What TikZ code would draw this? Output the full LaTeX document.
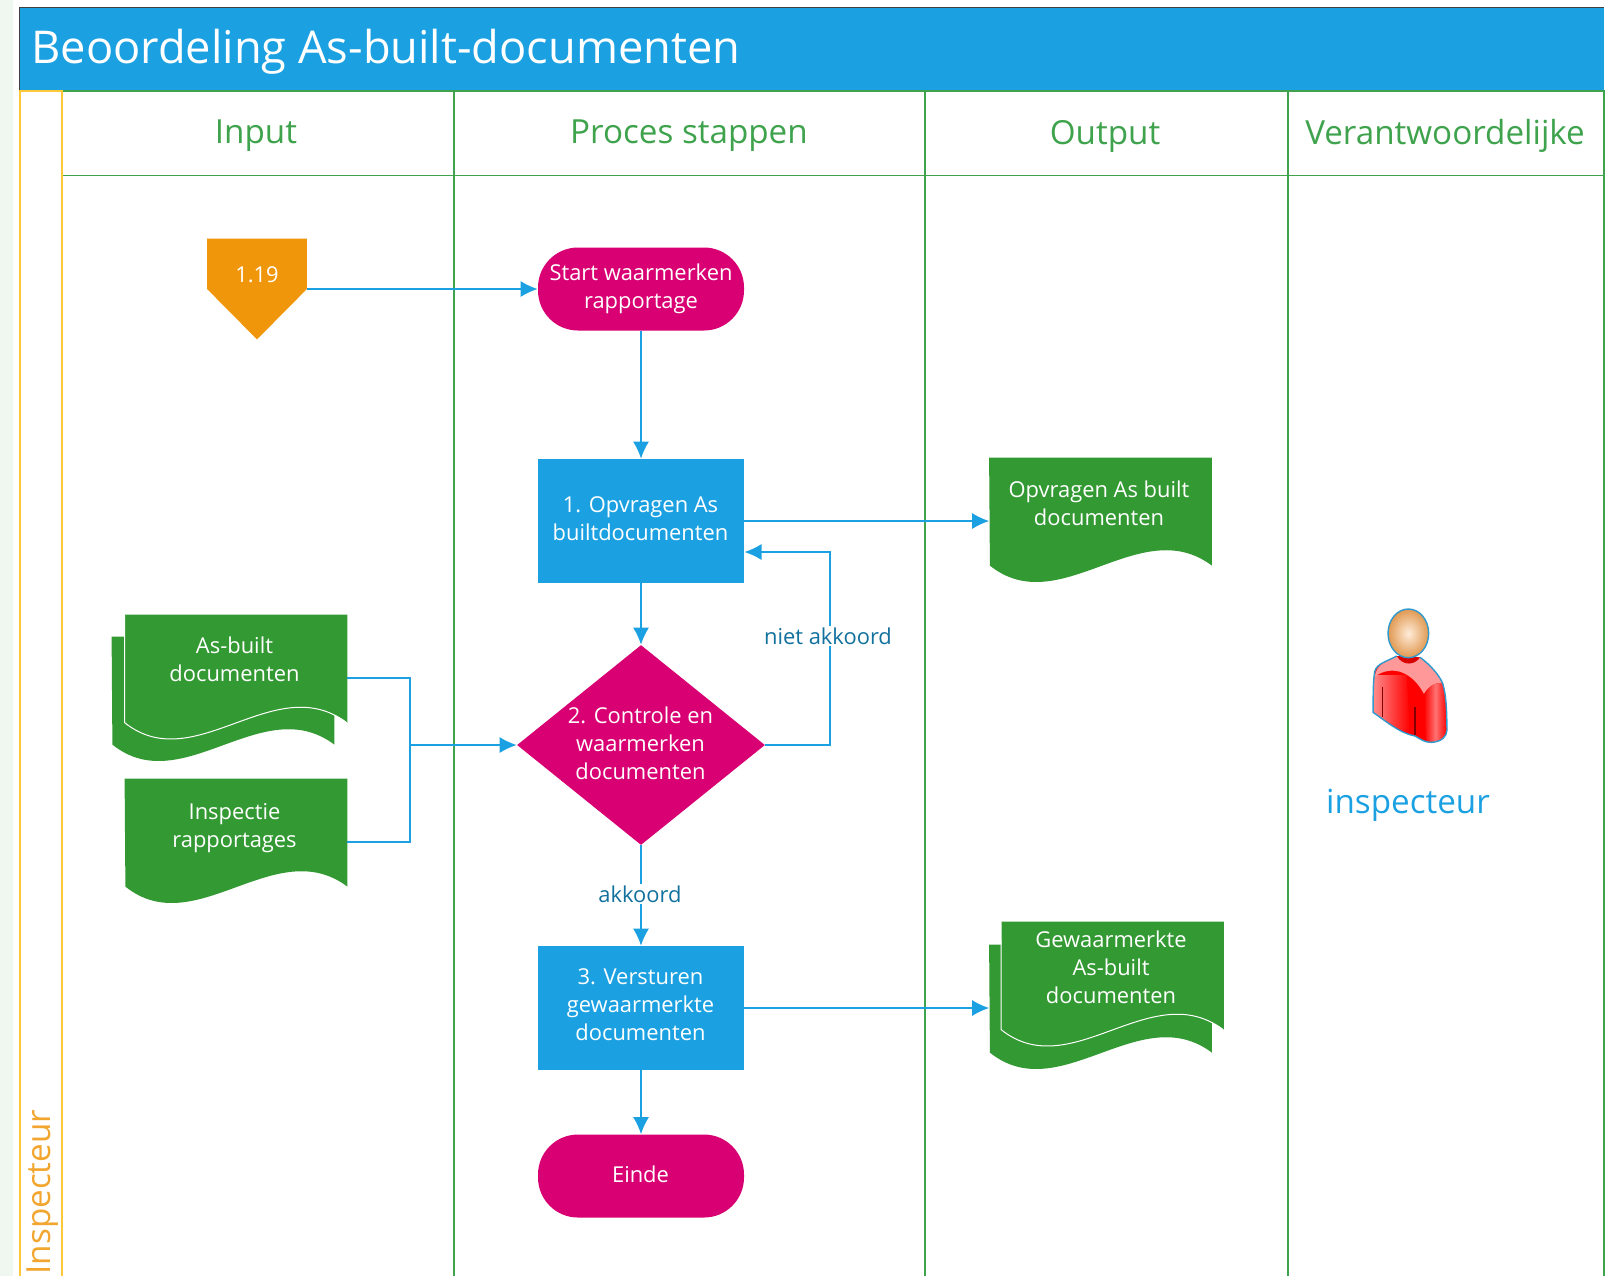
\documentclass[tikz,border=0pt]{standalone}
\usepackage{fontspec}
\setmainfont{Open Sans}
\usetikzlibrary{arrows.meta,shapes.geometric}
\definecolor{laneblue}{HTML}{1BA1E2}
\definecolor{lanegreen}{HTML}{3FA34D}
\definecolor{docgreen}{HTML}{339933}
\definecolor{startpink}{HTML}{D80073}
\definecolor{refer}{HTML}{F0960A}
\definecolor{laneyellow}{HTML}{FFC838}
\definecolor{pagebg}{HTML}{F0F7F1}
\tikzset{
  boxtext/.style={font=\fontsize{10.95}{14}\selectfont,text=white,align=center,inner sep=0pt},
  stepbox/.style={boxtext,fill=laneblue,minimum width=103pt,minimum height=62pt},
  startbox/.style={boxtext,fill=startpink,rounded corners=20pt,minimum width=103pt,minimum height=41.5pt},
  choice/.style={shape=diamond,fill=startpink,inner sep=0pt,minimum width=124pt,minimum height=100pt},
  docbox/.style={inner sep=0pt,minimum width=111pt,minimum height=63pt},
  head/.style={font=\fontsize{16.6}{20}\selectfont,text=lanegreen,inner sep=0pt},
  flow/.style={laneblue,line width=0.65pt,-{Latex[length=8.5pt,width=8pt]}},
  flowline/.style={laneblue,line width=0.65pt},
  edgetext/.style={font=\fontsize{10.95}{14}\selectfont,text=laneblue!70!black,fill=white,inner sep=1pt}
}
% document outline of a box node, with its wavy foot
\newcommand{\docwave}[1]{(#1.north west) -- (#1.north east) -- ++(0,108) .. controls +(-72,-54) and +(70,56) .. ++(-222,0) -- cycle}
\newcommand{\docedge}[1]{(#1.north west) -- ++(0,108) .. controls +(70,56) and +(-72,-54) .. ++(222,0)}
\begin{document}
\begin{tikzpicture}[x=0.5pt,y=-0.5pt]
    \useasboundingbox (0,0) rectangle (1610,1276);
    \fill[white] (0,0) rectangle (1610,1276);
    \fill[pagebg] (0,0) rectangle (13,1276);
    % title band
    \fill[laneblue] (19,7) rectangle (1604,91);
    \draw[black!75,line width=0.5pt] (19,91) -- (19,7) -- (1604,7);
    \node[font=\fontsize{22.6}{28}\selectfont,text=white,anchor=west,inner sep=0pt] (title) at (31,52) {Beoordeling As-built-documenten};
    % lanes
    \draw[lanegreen,line width=0.6pt] (62,91) -- (1604,91) -- (1604,1276);
    \draw[lanegreen,line width=0.6pt] (62,175.5) -- (1604,175.5);
    \draw[lanegreen,line width=0.6pt] (454,91) -- (454,1276);
    \draw[lanegreen,line width=0.6pt] (925,91) -- (925,1276);
    \draw[lanegreen,line width=0.6pt] (1288,91) -- (1288,1276);
    \draw[laneyellow,line width=1pt] (19.5,1276) -- (19.5,91) -- (62,91) -- (62,1276);
    \node[head] (input) at (256,136) {Input};
    \node[head] (proces) at (689,136) {Proces stappen};
    \node[head] (output) at (1105,136) {Output};
    \node[head] (verantw) at (1445,136) {Verantwoordelijke};
    \node[font=\fontsize{16.6}{20}\selectfont,text=refer!85,rotate=90,inner sep=0pt] (inspecteur) at (43,1192) {Inspecteur};
    % flow nodes
    \node[inner sep=0pt,minimum width=49.5pt,minimum height=50pt] (link) at (257,289) {};
    \fill[refer] (link.north west) -- (link.north east) -- (link.east) -- (link.south) -- (link.west) -- cycle;
    \node[boxtext] (linktext) at (257,275) {1.19};
    \node[startbox] (start) at (641,289) {Start waarmerken\\rapportage};
    \node[stepbox] (opvragen) at (641,521) {};
    \node[boxtext] (opvragentext) at (640.5,518.5) {1. Opvragen As\\builtdocumenten};
    \node[choice] (controle) at (641,745) {};
    \node[boxtext] (controletext) at (640.5,743) {2. Controle en\\waarmerken\\documenten};
    \node[stepbox] (versturen) at (641,1008) {};
    \node[boxtext] (versturentext) at (640.5,1005) {3. Versturen\\gewaarmerkte\\documenten};
    \node[startbox] (einde) at (641,1176) {};
    \node[boxtext] (eindetext) at (640.5,1174) {Einde};
    % documents
    \node[docbox] (opvrdoc) at (1100.5,521) {};
    \fill[docgreen] \docwave{opvrdoc};
    \node[boxtext] (opvrtext) at (1099,503.5) {Opvragen As built\\documenten};
    \node[docbox] (asbuiltback) at (223,700) {};
    \fill[docgreen] \docwave{asbuiltback};
    \node[docbox] (asbuilt) at (236,678) {};
    \fill[docgreen] \docwave{asbuilt};
    \draw[white,line width=0.5pt] \docedge{asbuilt};
    \node[boxtext] (asbuilttext) at (234.5,659) {As-built\\documenten};
    \node[docbox] (inspdoc) at (236,842) {};
    \fill[docgreen] \docwave{inspdoc};
    \node[boxtext] (insptext) at (234.5,828) {Inspectie\\rapportages};
    \node[docbox] (gewaarback) at (1100.5,1008) {};
    \fill[docgreen] \docwave{gewaarback};
    \node[docbox] (gewaar) at (1112.5,985) {};
    \fill[docgreen] \docwave{gewaar};
    \draw[white,line width=0.5pt] \docedge{gewaar};
    \node[boxtext] (gewaartext) at (1111,967) {Gewaarmerkte\\As-built\\documenten};
    % connectors
    \coordinate (samen) at (410,745);
    \coordinate (terug) at (744.5,552);
    \draw[flow] (link.east) -- (start.west);
    \draw[flow] (start.south) -- (opvragen.north);
    \draw[flow] (opvragen.south) -- (controle.north);
    \draw[flow] (opvragen.east) -- (opvrdoc.west);
    \draw[flow] (controle.east) -- (830,745) |- (terug);
    \draw[flowline] (asbuilt.east) -| (samen);
    \draw[flowline] (inspdoc.east) -| (samen);
    \draw[flow] (samen) -- (controle.west);
    \draw[flow] (controle.south) -- (versturen.north);
    \draw[flow] (versturen.east) -- (gewaarback.west);
    \draw[flow] (versturen.south) -- (einde.north);
    \node[edgetext] (nietakk) at (828,636) {niet akkoord};
    \node[edgetext] (akkoord) at (640,894) {akkoord};
    % person
    \begin{scope}[shift={(1300,580)},xscale=1/3,yscale=1/3]
        \fill[red] (290,228) .. controls (260,245) and (230,250) .. (224,275) .. controls (218,310) and (220,370) .. (219,397) .. controls (260,425) and (300,460) .. (345,468) .. controls (365,480) and (375,487) .. (395,487) .. controls (425,485) and (440,470) .. (441,450) .. controls (440,400) and (440,350) .. (428,310) .. controls (415,280) and (385,250) .. (360,232) -- cycle;
        \shade[left color=red!45!white,right color=red] (224,285) .. controls (218,320) and (220,370) .. (219,397) .. controls (260,425) and (290,445) .. (330,462) -- (320,285) -- cycle;
        \fill[red!40!white] (290,228) .. controls (260,245) and (230,250) .. (224,290) .. controls (280,250) and (340,280) .. (372,342) .. controls (385,320) and (405,305) .. (428,310) .. controls (415,280) and (385,250) .. (360,232) -- cycle;
        \fill[red!85!black] (290,228) -- (360,232) .. controls (345,255) and (310,260) .. (290,228) -- cycle;
        \shade[left color=red,right color=red,middle color=red!55!white] (372,342) .. controls (385,320) and (405,305) .. (428,310) .. controls (440,350) and (440,400) .. (441,450) .. controls (440,470) and (425,485) .. (395,487) .. controls (385,487) and (380,485) .. (378,480) -- cycle;
        \draw[red!50!black,line width=0.6pt] (248,320) -- (248,410);
        \draw[red!50!black,line width=0.6pt] (345,380) -- (345,465);
        \draw[laneblue!80!gray,line width=0.7pt] (290,228) .. controls (260,245) and (230,250) .. (224,275) .. controls (218,310) and (220,370) .. (219,397) .. controls (260,425) and (300,460) .. (345,468) .. controls (365,480) and (375,487) .. (395,487) .. controls (425,485) and (440,470) .. (441,450) .. controls (440,400) and (440,350) .. (428,310) .. controls (415,280) and (385,250) .. (360,232);
        \shade[inner color=orange!15!white,outer color=brown!60!orange!80!white,draw=laneblue!80!gray,line width=0.7pt] (325,160) ellipse[x radius=61,y radius=73];
    \end{scope}
    \node[font=\fontsize{16.6}{20}\selectfont,text=laneblue,inner sep=0pt] (inspnaam) at (1408,805) {inspecteur};
\end{tikzpicture}
\end{document}
